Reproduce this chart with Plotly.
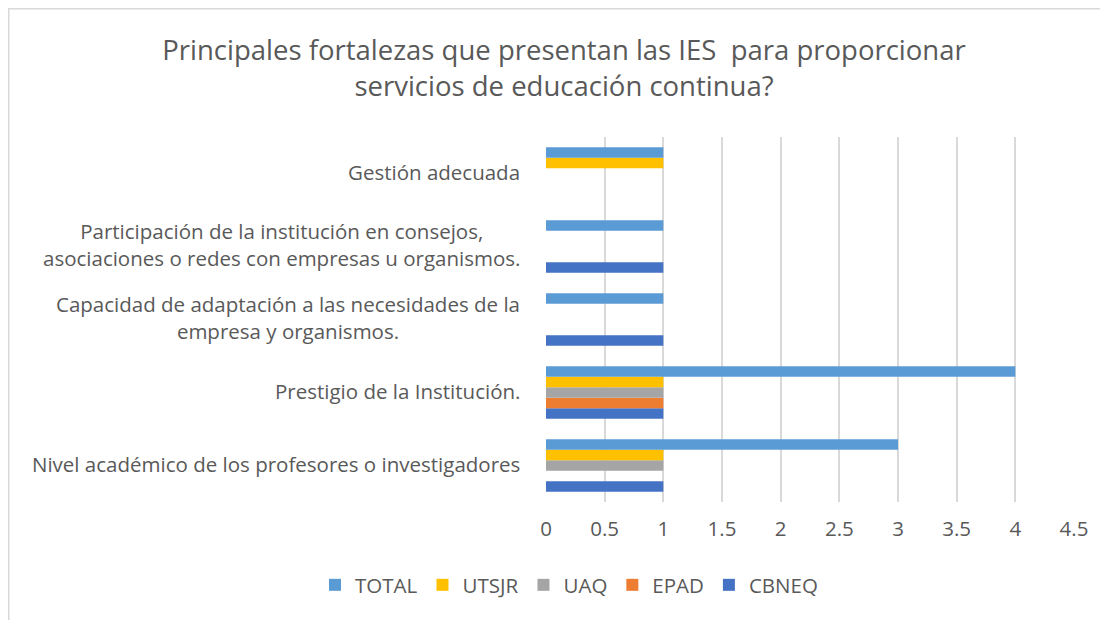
import plotly.graph_objects as go

categories = [
    "Nivel académico de los profesores o investigadores",
    "Prestigio de la Institución.",
    "Capacidad de adaptación a las necesidades de la<br>empresa y organismos.",
    "Participación de la institución en consejos,<br>asociaciones o redes con empresas u organismos.",
    "Gestión adecuada",
]
series_names = ["TOTAL", "UTSJR", "UAQ", "EPAD", "CBNEQ"]
total = [3, 4, 1, 1, 1]
utsjr = [1, 1, 0, 0, 1]
uaq = [1, 1, 0, 0, 0]
epad = [0, 1, 0, 0, 0]
cbneq = [1, 1, 1, 1, 0]
colors = {"TOTAL": "#5B9BD5", "UTSJR": "#FFC000", "UAQ": "#A5A5A5", "EPAD": "#ED7D31", "CBNEQ": "#4472C4"}
values = {"TOTAL": total, "UTSJR": utsjr, "UAQ": uaq, "EPAD": epad, "CBNEQ": cbneq}
x_ticks = [0, 0.5, 1, 1.5, 2, 2.5, 3, 3.5, 4, 4.5]

FONT = "Open Sans"
TXT = "#595959"

fig = go.Figure()
for name in reversed(series_names):
    fig.add_trace(go.Bar(
        y=categories, x=values[name], name=name, orientation="h",
        marker=dict(color=colors[name], line=dict(width=0)),
    ))

for c in categories:
    fig.add_annotation(
        x=0, xref="paper", y=c, yref="y", text=c, showarrow=False,
        xanchor="right", xshift=-24, yshift=2, align="center",
        font=dict(family=FONT, size=20.5, color=TXT),
    )

# page has an 8px body margin; figure coordinates are page - 8
W, H = 1100, 612
L, R, T, B = 538, 1066, 129, 494
fig.update_layout(
    width=W, height=H,
    margin=dict(l=L, r=W - R, t=T, b=H - B),
    paper_bgcolor="white", plot_bgcolor="white",
    barmode="group", bargap=0.28, bargroupgap=0,
    title=dict(
        text="Principales fortalezas que presentan las IES  para proporcionar<br>servicios de educación continua?",
        x=556 / W, xanchor="center", y=1 - 52 / H, yanchor="middle",
        font=dict(family=FONT, size=27.5, color=TXT),
    ),
    xaxis=dict(
        range=[0, 4.5], tickvals=x_ticks, ticktext=[f"{t:g}" for t in x_ticks],
        showgrid=True, gridcolor="#D9D9D9", gridwidth=1.5,
        zeroline=False, showline=False, ticks="", ticklabelstandoff=12,
        tickfont=dict(family=FONT, size=20.5, color=TXT),
    ),
    yaxis=dict(
        showticklabels=False, showgrid=False, zeroline=False, showline=False, ticks="",
        categoryorder="array", categoryarray=categories,
    ),
    legend=dict(
        orientation="h", x=561 / W, xref="container", xanchor="center",
        y=1 - 577 / H, yref="container", yanchor="middle",
        traceorder="reversed", font=dict(family=FONT, size=20.5, color=TXT),
        itemwidth=30,
    ),
    showlegend=True,
)
fig.add_shape(
    type="rect", xref="paper", yref="paper",
    x0=(0.75 - L) / (R - L), x1=(1120 - L) / (R - L),
    y0=(B - 640) / (B - T), y1=(B - 0.75) / (B - T),
    line=dict(color="#D9D9D9", width=1.5), fillcolor="rgba(0,0,0,0)", layer="below",
)
fig.write_html("out.html")
